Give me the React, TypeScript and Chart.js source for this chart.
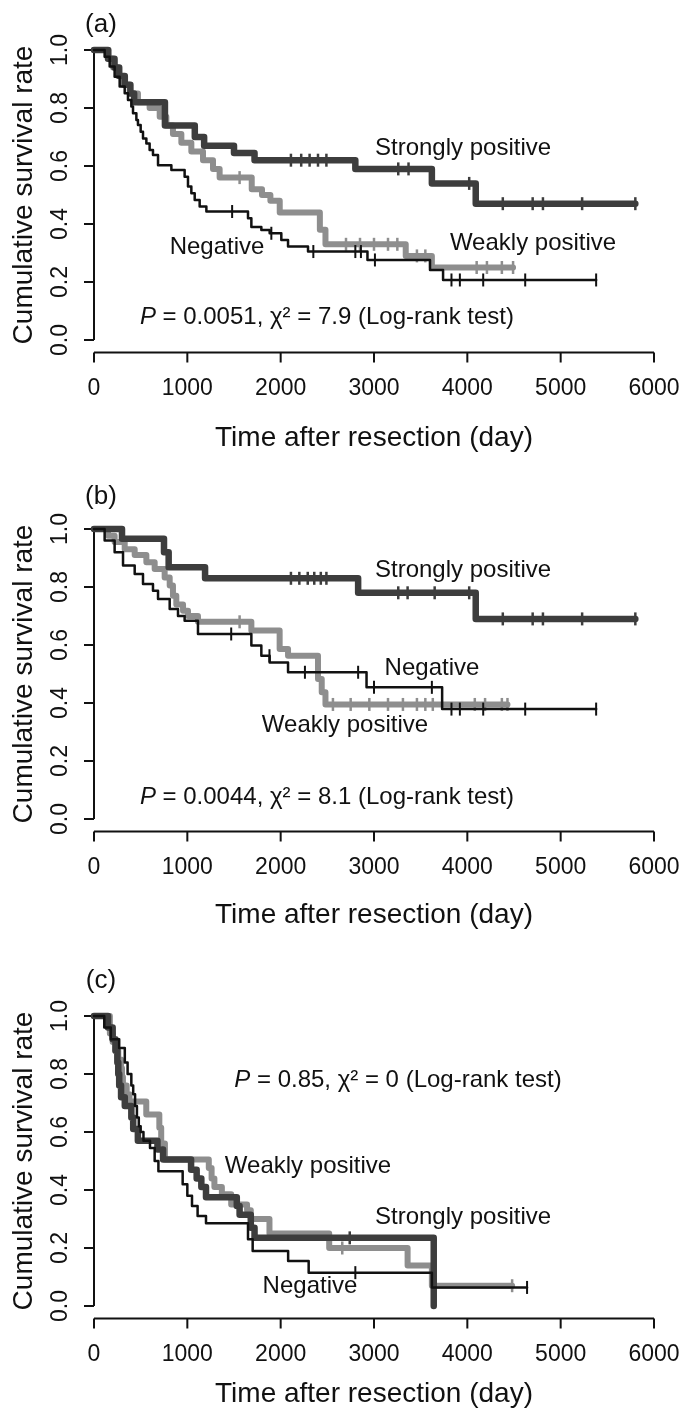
import React, { useEffect, useRef } from "react";
import { Chart, registerables } from "chart.js";

Chart.register(...registerables);

// ---------- shared axis data ----------
const xTickValues = [0, 1000, 2000, 3000, 4000, 5000, 6000];
const xTickLabels = ["0", "1000", "2000", "3000", "4000", "5000", "6000"];
const yTickValues = [0, 0.2, 0.4, 0.6, 0.8, 1.0];
const yTickLabels = ["0.0", "0.2", "0.4", "0.6", "0.8", "1.0"];
const xTitle = "Time after resection (day)";
const yTitle = "Cumulative survival rate";
const groupNames = ["Strongly positive", "Weakly positive", "Negative"];

// ---------- panel (a) ----------
const aStrongTimes = [150, 220, 270, 330, 390, 430, 760, 1080, 1180, 1500, 1720, 2800, 3620, 4090];
const aStrongSurv = [0.97, 0.94, 0.91, 0.88, 0.85, 0.82, 0.74, 0.7, 0.67, 0.645, 0.62, 0.59, 0.54, 0.47];
const aStrongCensor = [2110, 2220, 2310, 2400, 2490, 3260, 3370, 4020, 4380, 4700, 4810, 5230, 5800];

const aWeakTimes = [157, 204, 257, 311, 382, 471, 596, 704, 775, 846, 936, 1043, 1168, 1275, 1346, 1690, 1800, 1890, 1990, 2420, 2480, 3340, 3620];
const aWeakSurv = [0.97, 0.94, 0.91, 0.88, 0.85, 0.82, 0.8, 0.77, 0.74, 0.71, 0.68, 0.65, 0.62, 0.59, 0.56, 0.52, 0.5, 0.48, 0.44, 0.38, 0.33, 0.29, 0.25];
const aWeakCensor = [1560, 2700, 2850, 3000, 3150, 3250, 3460, 3550, 4100, 4210, 4370, 4490];

const aNegTimes = [114, 168, 221, 275, 329, 364, 400, 418, 454, 471, 500, 525, 561, 596, 632, 686, 829, 971, 1007, 1043, 1079, 1132, 1204, 1650, 1686, 1793, 1882, 2007, 2079, 2293, 2930, 3600, 3740];
const aNegSurv = [0.977, 0.943, 0.908, 0.874, 0.851, 0.828, 0.805, 0.782, 0.759, 0.741, 0.718, 0.695, 0.678, 0.655, 0.638, 0.603, 0.586, 0.563, 0.529, 0.506, 0.483, 0.46, 0.443, 0.42, 0.39, 0.379, 0.368, 0.345, 0.322, 0.305, 0.276, 0.241, 0.207];
const aNegCensor = [1480, 1900, 2350, 2800, 2860, 3010, 3830, 3920, 4170, 4620, 5380];

const aStat = "= 0.0051, \u03c7\u00b2 = 7.9 (Log-rank test)";

// ---------- panel (b) ----------
const bStrongTimes = [300, 750, 800, 1190, 2830, 4090];
const bStrongSurv = [0.966, 0.92, 0.868, 0.83, 0.78, 0.69];
const bStrongCensor = [2110, 2200, 2290, 2360, 2430, 2490, 3260, 3360, 3650, 4020, 4380, 4700, 4810, 5230, 5800];

const bWeakTimes = [150, 221, 329, 436, 561, 650, 757, 811, 846, 882, 954, 1007, 1114, 1686, 1989, 2079, 2400, 2440, 2480];
const bWeakSurv = [0.977, 0.955, 0.93, 0.91, 0.885, 0.862, 0.833, 0.805, 0.77, 0.74, 0.718, 0.7, 0.68, 0.65, 0.586, 0.563, 0.483, 0.437, 0.395];
const bWeakCensor = [1560, 2560, 2750, 2950, 3150, 3310, 3460, 3550, 3630, 4080, 4190, 4370, 4430];

const bNegTimes = [114, 221, 311, 436, 525, 632, 686, 811, 900, 971, 1114, 1686, 1793, 1882, 2079, 2920, 3730];
const bNegSurv = [0.96, 0.92, 0.874, 0.845, 0.81, 0.787, 0.759, 0.724, 0.7, 0.684, 0.638, 0.598, 0.563, 0.54, 0.506, 0.454, 0.379];
const bNegCensor = [1470, 1880, 2260, 2830, 3000, 3620, 3830, 3920, 4170, 4620, 5380];

const bStat = "= 0.0044, \u03c7\u00b2 = 8.1 (Log-rank test)";

// ---------- panel (c) ----------
const cStrongTimes = [150, 200, 230, 250, 260, 270, 290, 330, 400, 420, 470, 680, 740, 1040, 1100, 1150, 1200, 1530, 1560, 1680, 1720, 3640];
const cStrongSurv = [0.96, 0.92, 0.88, 0.84, 0.8, 0.76, 0.72, 0.69, 0.65, 0.61, 0.57, 0.54, 0.505, 0.47, 0.44, 0.41, 0.375, 0.345, 0.315, 0.27, 0.235, 0.0];
const cStrongCensor = [2740];

const cWeakTimes = [170, 200, 230, 260, 290, 300, 310, 350, 380, 560, 700, 720, 760, 1230, 1260, 1290, 1370, 1470, 1640, 1680, 1880, 2520, 3360, 3620];
const cWeakSurv = [0.94, 0.91, 0.88, 0.85, 0.82, 0.79, 0.76, 0.73, 0.705, 0.66, 0.615, 0.56, 0.505, 0.476, 0.44, 0.41, 0.385, 0.35, 0.33, 0.3, 0.25, 0.2, 0.14, 0.07];
const cWeakCensor = [2660, 4480];

const cNegTimes = [110, 180, 270, 330, 360, 400, 420, 440, 460, 480, 500, 530, 600, 650, 690, 950, 1000, 1050, 1110, 1200, 1650, 1700, 2080, 2300, 3620];
const cNegSurv = [0.96, 0.92, 0.89, 0.84, 0.8, 0.76, 0.73, 0.69, 0.65, 0.62, 0.6, 0.57, 0.545, 0.5, 0.465, 0.42, 0.38, 0.345, 0.31, 0.285, 0.23, 0.19, 0.155, 0.115, 0.064];
const cNegCensor = [2800, 4640];

const cStat = "= 0.85, \u03c7\u00b2 = 0 (Log-rank test)";

// ---------- styles ----------
const FONT = '"Liberation Sans", Arial, Helvetica, sans-serif';
const TEXT = "#111111";
const COL_STRONG = "#3d3d3d";
const COL_WEAK = "#8e8e8e";
const COL_NEG = "#111111";

type Pt = { x: number; y: number };

function survAt(times: number[], survs: number[], t: number): number {
  let s = 1;
  for (let i = 0; i < times.length; i++) if (times[i] <= t) s = survs[i];
  return s;
}

function curvePoints(times: number[], survs: number[], censor: number[]): Pt[] {
  const pts: Pt[] = [{ x: 0, y: 1 }];
  times.forEach((t, i) => pts.push({ x: t, y: survs[i] }));
  const lastT = times[times.length - 1];
  const end = Math.max(lastT, censor.length ? censor[censor.length - 1] : 0);
  if (end > lastT) pts.push({ x: end, y: survs[survs.length - 1] });
  return pts;
}

function censorPoints(times: number[], survs: number[], censor: number[]): Pt[] {
  return censor.map((c) => ({ x: c, y: survAt(times, survs, c) }));
}

function seriesDatasets(times: number[], survs: number[], censor: number[], color: string, width: number, tickW: number, order: number) {
  return [
    {
      type: "line",
      data: curvePoints(times, survs, censor),
      borderColor: color,
      borderWidth: width,
      stepped: "before",
      pointRadius: 0,
      fill: false,
      borderCapStyle: "round",
      borderJoinStyle: "round",
      order,
      clip: false,
    },
    {
      type: "line",
      data: censorPoints(times, survs, censor),
      showLine: false,
      pointStyle: "line",
      rotation: 90,
      pointRadius: 6.5,
      pointBorderWidth: tickW,
      pointBorderColor: color,
      pointBackgroundColor: color,
      borderColor: color,
      order,
      clip: false,
    },
  ];
}

// ---------- layout per panel ----------
const panels = [
  {
    top: 0,
    height: 479,
    letter: "(a)",
    letterY: 25,
    xTitleY: 438,
    stat: aStat,
    statPos: { x: 2496, y: 0.079 },
    labels: [
      { text: groupNames[0], x: 3954, y: 0.662 },
      { text: groupNames[1], x: 4704, y: 0.334 },
      { text: groupNames[2], x: 1318, y: 0.321 },
    ],
    series: [
      [aStrongTimes, aStrongSurv, aStrongCensor],
      [aWeakTimes, aWeakSurv, aWeakCensor],
      [aNegTimes, aNegSurv, aNegCensor],
    ],
  },
  {
    top: 479,
    height: 487,
    letter: "(b)",
    letterY: 18,
    xTitleY: 436,
    stat: bStat,
    statPos: { x: 2496, y: 0.076 },
    labels: [
      { text: groupNames[0], x: 3954, y: 0.859 },
      { text: groupNames[2], x: 3621, y: 0.521 },
      { text: groupNames[1], x: 2689, y: 0.324 },
    ],
    series: [
      [bStrongTimes, bStrongSurv, bStrongCensor],
      [bWeakTimes, bWeakSurv, bWeakCensor],
      [bNegTimes, bNegSurv, bNegCensor],
    ],
  },
  {
    top: 966,
    height: 443,
    letter: "(c)",
    letterY: 15,
    xTitleY: 428,
    stat: cStat,
    statPos: { x: 3257, y: 0.779 },
    labels: [
      { text: groupNames[1], x: 2293, y: 0.483 },
      { text: groupNames[0], x: 3954, y: 0.307 },
      { text: groupNames[2], x: 2314, y: 0.066 },
    ],
    series: [
      [cStrongTimes, cStrongSurv, cStrongCensor],
      [cWeakTimes, cWeakSurv, cWeakCensor],
      [cNegTimes, cNegSurv, cNegCensor],
    ],
  },
];

const PLOT_LEFT = 94;
const PLOT_RIGHT = 654;
const Y1_PX = 50;
const Y0_PX = 340;
const YMIN = -0.04;
const YMAX = 1.04;

const kmPlugin = {
  id: "kmDecor",
  beforeDatasetsDraw(chart: any) {
    const o = chart.options.plugins.kmDecor;
    if (!o) return;
    const ctx = chart.ctx;
    const xs = chart.scales.x;
    const ys = chart.scales.y;
    const area = chart.chartArea;
    ctx.save();
    ctx.strokeStyle = TEXT;
    ctx.lineWidth = 2;
    ctx.lineCap = "butt";
    // y axis
    const yx = xs.getPixelForValue(0);
    ctx.beginPath();
    ctx.moveTo(yx, ys.getPixelForValue(0));
    ctx.lineTo(yx, ys.getPixelForValue(1));
    yTickValues.forEach((v) => {
      const py = ys.getPixelForValue(v);
      ctx.moveTo(yx, py);
      ctx.lineTo(yx - 10, py);
    });
    ctx.stroke();
    // x axis
    const by = area.bottom + 1;
    ctx.beginPath();
    ctx.moveTo(xs.getPixelForValue(0), by);
    ctx.lineTo(xs.getPixelForValue(6000), by);
    xTickValues.forEach((v) => {
      const px = xs.getPixelForValue(v);
      ctx.moveTo(px, by);
      ctx.lineTo(px, by + 10);
    });
    ctx.stroke();
    ctx.restore();
  },
  afterDatasetsDraw(chart: any) {
    const o = chart.options.plugins.kmDecor;
    if (!o) return;
    const ctx = chart.ctx;
    const xs = chart.scales.x;
    const ys = chart.scales.y;
    ctx.save();
    ctx.fillStyle = TEXT;
    ctx.textAlign = "center";
    ctx.textBaseline = "middle";
    // x tick labels
    ctx.font = `23px ${FONT}`;
    xTickValues.forEach((v, i) => {
      ctx.fillText(xTickLabels[i], xs.getPixelForValue(v), 389);
    });
    // y tick labels (rotated)
    yTickValues.forEach((v, i) => {
      ctx.save();
      ctx.translate(61, ys.getPixelForValue(v));
      ctx.rotate(-Math.PI / 2);
      ctx.fillText(yTickLabels[i], 0, 0);
      ctx.restore();
    });
    // titles
    ctx.font = `28px ${FONT}`;
    ctx.fillText(xTitle, (PLOT_LEFT + PLOT_RIGHT) / 2, o.xTitleY);
    ctx.save();
    ctx.translate(24, (ys.getPixelForValue(0) + ys.getPixelForValue(1)) / 2);
    ctx.rotate(-Math.PI / 2);
    ctx.fillText(yTitle, 0, 0);
    ctx.restore();
    // panel letter
    ctx.font = `26px ${FONT}`;
    ctx.fillText(o.letter, 101, o.letterY);
    // group labels
    ctx.font = `24px ${FONT}`;
    o.labels.forEach((l: any) => {
      ctx.fillText(l.text, xs.getPixelForValue(l.x), ys.getPixelForValue(l.y));
    });
    // stat text with italic P
    const italic = `italic 24px ${FONT}`;
    const normal = `24px ${FONT}`;
    ctx.font = italic;
    const wP = ctx.measureText("P ").width;
    ctx.font = normal;
    const wRest = ctx.measureText(o.stat).width;
    const cx = xs.getPixelForValue(o.statPos.x);
    const cy = ys.getPixelForValue(o.statPos.y);
    const x0 = cx - (wP + wRest) / 2;
    ctx.textAlign = "left";
    ctx.font = italic;
    ctx.fillText("P", x0, cy);
    ctx.font = normal;
    ctx.fillText(o.stat, x0 + wP, cy);
    ctx.restore();
  },
};

function Panel({ cfg }: { cfg: any }) {
  const ref = useRef<HTMLCanvasElement | null>(null);
  useEffect(() => {
    if (!ref.current) return;
    const [s, w, n] = cfg.series;
    const datasets = [
      ...seriesDatasets(s[0], s[1], s[2], COL_STRONG, 6.5, 2.5, 1),
      ...seriesDatasets(w[0], w[1], w[2], COL_WEAK, 6, 2.5, 2),
      ...seriesDatasets(n[0], n[1], n[2], COL_NEG, 2.5, 2, 0),
    ];
    const scalePx = (Y0_PX - Y1_PX);
    const padTop = Y1_PX - (YMAX - 1) * scalePx;
    const padBottomPx = Y0_PX + (0 - YMIN) * scalePx;
    const chart = new Chart(ref.current, {
      type: "line",
      data: { datasets: datasets as any },
      options: {
        animation: false,
        responsive: false,
        maintainAspectRatio: false,
        devicePixelRatio: 1,
        events: [],
        layout: {
          padding: {
            left: PLOT_LEFT,
            right: 680 - PLOT_RIGHT,
            top: padTop,
            bottom: cfg.height - padBottomPx,
          },
        },
        scales: {
          x: { type: "linear", min: 0, max: 6000, display: false },
          y: { type: "linear", min: YMIN, max: YMAX, display: false },
        },
        plugins: {
          legend: { display: false },
          tooltip: { enabled: false },
          kmDecor: cfg,
        } as any,
      },
      plugins: [kmPlugin],
    });
    return () => chart.destroy();
  }, [cfg]);
  return (
    <canvas
      ref={ref}
      width={680}
      height={cfg.height}
      style={{ position: "absolute", left: 0, top: cfg.top, width: 680, height: cfg.height, display: "block" }}
    />
  );
}

export default function App() {
  return (
    <div style={{ position: "absolute", left: 0, top: 0, width: 680, height: 1409, background: "#ffffff", overflow: "hidden" }}>
      {panels.map((p, i) => (
        <Panel key={i} cfg={p} />
      ))}
    </div>
  );
}
